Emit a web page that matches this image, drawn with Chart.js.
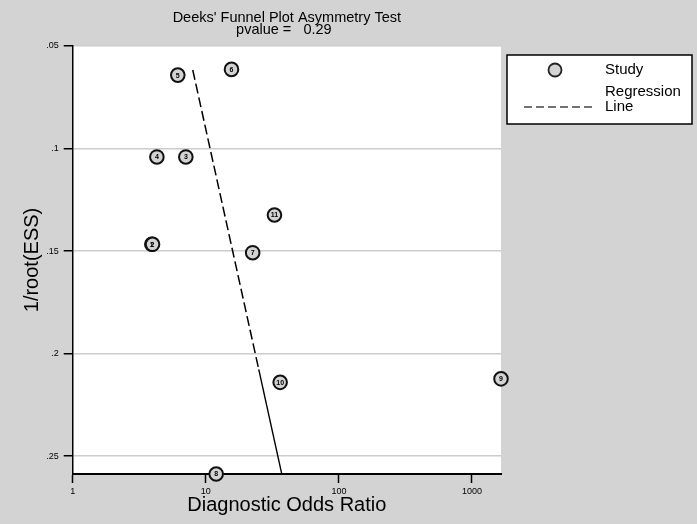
<!DOCTYPE html>
<html>
<head>
<meta charset="utf-8">
<script src="https://cdn.jsdelivr.net/npm/chart.js@4/dist/chart.umd.min.js"></script>
<style>
  body { margin: 0; background: #d3d3d3; }
</style>
</head>
<body>
<canvas id="funnelChart" width="697" height="524"></canvas>
<script>
// Study points: diagnostic odds ratio (log x) vs 1/root(ESS)
const studyIds = ['1', '2', '3', '4', '5', '6', '7', '8', '9', '10', '11'];
const studyDOR = [3.93, 3.98, 7.08, 4.29, 6.16, 15.6, 22.5, 11.97, 1652, 36.2, 32.8];
const studyInvRootESS = [0.1467, 0.1467, 0.1041, 0.1041, 0.0642, 0.0614, 0.1508, 0.2587, 0.2123, 0.2140, 0.1324];

// Regression line: dashed part, then solid part
const regDashDOR = [7.98, 25.0];
const regDashY = [0.0617, 0.2077];
const regSolidDOR = [25.0, 37.2];
const regSolidY = [0.2077, 0.2586];

const xTicks = [1, 10, 100, 1000];
const yTicks = [0.05, 0.1, 0.15, 0.2, 0.25];
const yTickLabels = ['.05', '.1', '.15', '.2', '.25'];

const titleLines = ["Deeks' Funnel Plot Asymmetry Test", 'pvalue =   0.29'];

const FONT = '"Liberation Sans", Arial, sans-serif';
const BG = '#d3d3d3';

const toPoints = (xs, ys) => xs.map((x, i) => ({ x: x, y: ys[i] }));

// gray page + white plot area
const backgroundPlugin = {
  id: 'background',
  beforeDraw(chart) {
    const { ctx, chartArea: a } = chart;
    ctx.save();
    ctx.fillStyle = BG;
    ctx.fillRect(0, 0, chart.width, chart.height);
    ctx.fillStyle = '#ffffff';
    ctx.fillRect(a.left, a.top, a.right - a.left, a.bottom - a.top);
    ctx.restore();
  }
};

// title centred over the plot area (not the whole canvas)
const plotTitlePlugin = {
  id: 'plotTitle',
  afterDraw(chart) {
    const { ctx, chartArea: a } = chart;
    const cx = (a.left + a.right) / 2;
    ctx.save();
    ctx.fillStyle = '#000';
    ctx.font = '14.5px ' + FONT;
    ctx.textAlign = 'center';
    ctx.textBaseline = 'middle';
    ctx.fillText(titleLines[0], cx, 18);
    ctx.fillText(titleLines[1], cx - 3, 30);
    ctx.restore();
  }
};

// study number inside each circle
const pointLabelPlugin = {
  id: 'pointLabels',
  afterDatasetsDraw(chart) {
    const { ctx } = chart;
    const meta = chart.getDatasetMeta(0);
    ctx.save();
    ctx.font = 'bold 7px ' + FONT;
    ctx.fillStyle = '#000';
    ctx.textAlign = 'center';
    ctx.textBaseline = 'middle';
    meta.data.forEach((pt, i) => {
      ctx.fillText(studyIds[i], pt.x, pt.y + 0.5);
    });
    ctx.restore();
  }
};

// boxed legend on the right
const boxLegendPlugin = {
  id: 'boxLegend',
  afterDraw(chart) {
    const { ctx } = chart;
    const ds = chart.data.datasets;
    ctx.save();
    ctx.fillStyle = '#ffffff';
    ctx.fillRect(507, 55, 185, 69);
    ctx.strokeStyle = '#000';
    ctx.lineWidth = 1.5;
    ctx.strokeRect(507, 55, 185, 69);

    ctx.beginPath();
    ctx.arc(555, 70, 6.5, 0, Math.PI * 2);
    ctx.fillStyle = ds[0].backgroundColor;
    ctx.fill();
    ctx.lineWidth = 1.8;
    ctx.strokeStyle = '#222';
    ctx.stroke();

    ctx.beginPath();
    ctx.setLineDash([8, 4]);
    ctx.lineWidth = 1.3;
    ctx.strokeStyle = '#444';
    ctx.moveTo(524, 107);
    ctx.lineTo(592, 107);
    ctx.stroke();
    ctx.setLineDash([]);

    ctx.fillStyle = '#000';
    ctx.font = '15px ' + FONT;
    ctx.textBaseline = 'middle';
    ctx.fillText(ds[0].label, 605, 70);
    ctx.fillText('Regression', 605, 92);
    ctx.fillText('Line', 605, 107);
    ctx.restore();
  }
};

const ctx = document.getElementById('funnelChart').getContext('2d');

new Chart(ctx, {
  type: 'scatter',
  data: {
    datasets: [{
      label: 'Study',
      data: toPoints(studyDOR, studyInvRootESS),
      backgroundColor: '#d3d3d3',
      borderColor: '#111',
      borderWidth: 2,
      pointRadius: 6.8,
      clip: false
    }, {
      label: 'Regression Line',
      data: toPoints(regDashDOR, regDashY),
      showLine: true,
      borderColor: '#000',
      borderWidth: 1.5,
      borderDash: [10, 4],
      pointRadius: 0,
      clip: false
    }, {
      label: 'Regression Line (solid)',
      data: toPoints(regSolidDOR, regSolidY),
      showLine: true,
      borderColor: '#000',
      borderWidth: 1.4,
      pointRadius: 0,
      clip: false
    }]
  },
  options: {
    responsive: false,
    devicePixelRatio: 1,
    animation: false,
    layout: { padding: { left: 0, right: 196, top: 46, bottom: 0 } },
    plugins: {
      legend: { display: false },
      tooltip: { enabled: false },
      title: { display: false }
    },
    scales: {
      x: {
        type: 'logarithmic',
        min: 1,
        max: 1652,
        afterBuildTicks: (scale) => { scale.ticks = xTicks.map(v => ({ value: v })); },
        afterFit: (scale) => { scale.height = 50; },
        ticks: {
          color: '#000',
          font: { family: FONT, size: 9 },
          padding: 3,
          maxRotation: 0,
          autoSkip: false,
          callback: (v) => String(v)
        },
        grid: { drawOnChartArea: false, drawTicks: true, tickLength: 9, tickColor: '#000', tickWidth: 1.5 },
        border: { color: '#000', width: 2 },
        title: {
          display: true,
          text: 'Diagnostic Odds Ratio',
          color: '#000',
          font: { family: FONT, size: 20 },
          padding: { top: 0, bottom: 7 }
        }
      },
      y: {
        type: 'linear',
        reverse: true,
        min: 0.05,
        max: 0.2587,
        afterBuildTicks: (scale) => { scale.ticks = yTicks.map(v => ({ value: v })); },
        afterFit: (scale) => { scale.width = 72.7; },
        ticks: {
          color: '#000',
          font: { family: FONT, size: 9 },
          padding: 5,
          autoSkip: false,
          callback: (v) => yTickLabels[yTicks.findIndex(t => Math.abs(t - v) < 1e-6)] ?? ''
        },
        grid: { color: '#cccccc', lineWidth: 1.5, tickLength: 9, tickColor: '#000', tickWidth: 1.5 },
        border: { color: '#000', width: 1.5 },
        title: {
          display: true,
          text: '1/root(ESS)',
          color: '#000',
          font: { family: FONT, size: 20 },
          padding: { top: 20, bottom: 0 }
        }
      }
    }
  },
  plugins: [backgroundPlugin, plotTitlePlugin, pointLabelPlugin, boxLegendPlugin]
});
</script>
</body>
</html>
